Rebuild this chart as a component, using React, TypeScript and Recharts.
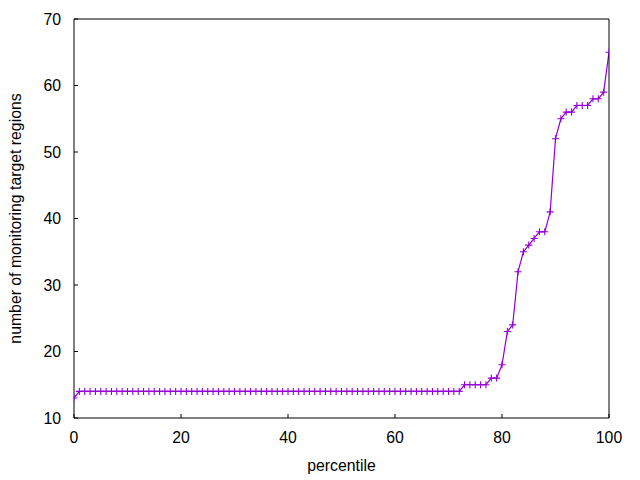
import { LineChart, Line, XAxis, YAxis } from "recharts";

const percentiles = [
  0, 1, 2, 3, 4, 5, 6, 7, 8, 9, 10, 11, 12, 13, 14, 15, 16, 17, 18, 19, 20,
  21, 22, 23, 24, 25, 26, 27, 28, 29, 30, 31, 32, 33, 34, 35, 36, 37, 38, 39,
  40, 41, 42, 43, 44, 45, 46, 47, 48, 49, 50, 51, 52, 53, 54, 55, 56, 57, 58,
  59, 60, 61, 62, 63, 64, 65, 66, 67, 68, 69, 70, 71, 72, 73, 74, 75, 76, 77,
  78, 79, 80, 81, 82, 83, 84, 85, 86, 87, 88, 89, 90, 91, 92, 93, 94, 95, 96,
  97, 98, 99, 100,
];

const regions = [
  13,
  14, 14, 14, 14, 14, 14, 14, 14, 14, 14, 14, 14,
  14, 14, 14, 14, 14, 14, 14, 14, 14, 14, 14, 14,
  14, 14, 14, 14, 14, 14, 14, 14, 14, 14, 14, 14,
  14, 14, 14, 14, 14, 14, 14, 14, 14, 14, 14, 14,
  14, 14, 14, 14, 14, 14, 14, 14, 14, 14, 14, 14,
  14, 14, 14, 14, 14, 14, 14, 14, 14, 14, 14, 14,
  15, 15, 15, 15, 15,
  16, 16, 18, 23, 24, 32, 35, 36, 37, 38, 38, 41,
  52, 55, 56, 56, 57, 57, 57, 58, 58, 59, 65,
];

const xTicks = [0, 20, 40, 60, 80, 100];
const yTicks = [10, 20, 30, 40, 50, 60, 70];

const data = percentiles.map((p, i) => ({ p, v: regions[i] }));

const COLOR = "#9400d3";
const FONT = "'Liberation Sans', Arial, sans-serif";
const FS = 15.8;
const tickStyle = { fontSize: FS, fill: "#000", fontFamily: FONT };

function Cross(props: any) {
  const { cx, cy, index } = props;
  if (cx == null || cy == null) return null;
  const s = 3.5;
  return (
    <path
      key={`c-${index}`}
      d={`M${cx - s},${cy}H${cx + s}M${cx},${cy - s}V${cy + s}`}
      stroke={COLOR}
      strokeWidth={1.1}
      fill="none"
    />
  );
}

export default function App() {
  return (
    <div style={{ position: "absolute", left: 0, top: 0, background: "#fff" }}>
      <LineChart
        width={640}
        height={480}
        data={data}
        margin={{ top: 18, right: 30, bottom: 0, left: 0 }}
      >
        <XAxis
          dataKey="p"
          type="number"
          domain={[0, 100]}
          ticks={xTicks}
          height={62}
          tickSize={-4}
          tickMargin={18}
          tick={tickStyle}
          axisLine={{ stroke: "#000" }}
          tickLine={{ stroke: "#000" }}
          allowDataOverflow
          label={{
            value: "percentile",
            position: "center",
            dy: 16,
            style: { fontSize: FS, fill: "#000", fontFamily: FONT },
          }}
        />
        <XAxis
          xAxisId="top"
          orientation="top"
          type="number"
          domain={[0, 100]}
          ticks={xTicks}
          height={1}
          tickSize={-4}
          tick={false}
          axisLine={{ stroke: "#000" }}
          tickLine={{ stroke: "#000" }}
          allowDataOverflow
        />
        <YAxis
          type="number"
          domain={[10, 70]}
          ticks={yTicks}
          width={74}
          tickSize={-4}
          tickMargin={17}
          tick={tickStyle}
          axisLine={{ stroke: "#000" }}
          tickLine={{ stroke: "#000" }}
          allowDataOverflow
          label={{
            value: "number of monitoring target regions",
            angle: -90,
            position: "center",
            dx: -22,
            style: { fontSize: FS, fill: "#000", fontFamily: FONT },
          }}
        />
        <YAxis
          yAxisId="right"
          orientation="right"
          type="number"
          domain={[10, 70]}
          ticks={yTicks}
          width={1}
          tickSize={-4}
          tick={false}
          axisLine={{ stroke: "#000" }}
          tickLine={{ stroke: "#000" }}
          allowDataOverflow
        />
        <Line
          type="linear"
          dataKey="v"
          stroke={COLOR}
          strokeWidth={1.2}
          dot={Cross}
          activeDot={false}
          isAnimationActive={false}
        />
      </LineChart>
    </div>
  );
}
